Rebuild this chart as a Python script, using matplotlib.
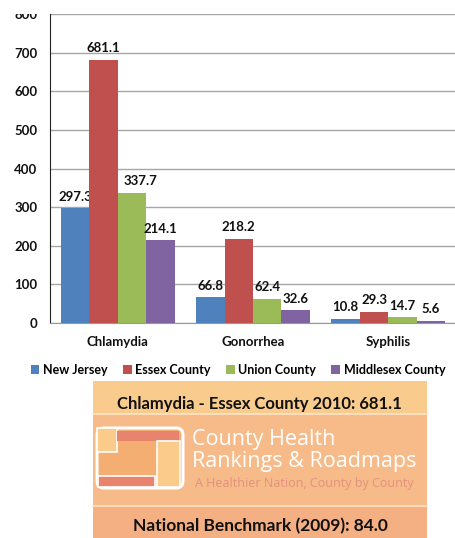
import matplotlib
matplotlib.use('Agg')
import matplotlib.pyplot as plt
from matplotlib.patches import Rectangle, FancyBboxPatch
import numpy as np

plt.rcParams['font.family'] = ['Lato', 'DejaVu Sans']

# data
diseases = ['Chlamydia', 'Gonorrhea', 'Syphilis']
series = ['New Jersey', 'Essex County', 'Union County', 'Middlesex County']
new_jersey = [297.3, 66.8, 10.8]
essex = [681.1, 218.2, 29.3]
union = [337.7, 62.4, 14.7]
middlesex = [214.1, 32.6, 5.6]
yticks = [0, 100, 200, 300, 400, 500, 600, 700, 800]
colors = ['#4F81BD', '#C0504D', '#9BBB59', '#8064A2']

headline = 'Chlamydia - Essex County 2010: 681.1'
benchmark = 'National Benchmark (2009): 84.0'

W, H = 455, 538
fig = plt.figure(figsize=(W / 100, H / 100), dpi=100)

# --- info box drawn in pixel coordinates ---
bg = fig.add_axes([0, 0, 1, 1])
bg.set_xlim(0, W)
bg.set_ylim(H, 0)
bg.axis('off')

bg.add_patch(Rectangle((93, 381), 334, 34, color='#F9CB8C', lw=0))
bg.add_patch(Rectangle((93, 415), 334, 91, color='#F6BB89', lw=0))
bg.add_patch(Rectangle((93, 506), 334, 32, color='#F4AF82', lw=0))
bg.plot([93, 427], [414, 414], color='#FCE3C8', lw=1.2)
bg.plot([93, 427], [506, 506], color='#FCE3C8', lw=1.2)

# logo
bg.add_patch(FancyBboxPatch((97, 428), 86, 60, boxstyle='round,pad=0,rounding_size=7',
                            fc='#F5AE72', ec='white', lw=2.2))
bg.add_patch(Rectangle((97, 428), 20, 24, fc='#FBCB8C', ec='white', lw=1.2))
bg.add_patch(Rectangle((117, 431), 62, 10, fc='#E8846E', ec='none'))
bg.add_patch(Rectangle((157, 441), 23, 46, fc='#FBCB8C', ec='white', lw=1.2))
bg.add_patch(Rectangle((98, 476), 57, 11, fc='#E8846E', ec='white', lw=1.2))

bg.text(259, 404, headline, ha='center', va='center', fontsize=12,
        fontweight='bold', color='#111111')
bg.text(192, 439, 'County Health', ha='left', va='center', fontsize=15.5,
        color='white', family='Open Sans')
bg.text(192, 462, 'Rankings & Roadmaps', ha='left', va='center', fontsize=15.5,
        color='white', family='Open Sans')
bg.text(195, 484, 'A Healthier Nation, County by County', ha='left', va='center',
        fontsize=9, color='#E2917D', family='Open Sans')
bg.text(260, 526, benchmark, ha='center', va='center', fontsize=12.5,
        fontweight='bold', color='#111111')

# --- bar chart ---
ax = fig.add_axes([50 / W, (H - 323) / H, 406 / W, 309 / H])
x = np.arange(len(diseases))
w = 0.21
values = [new_jersey, essex, union, middlesex]
for i, (vals, c, name) in enumerate(zip(values, colors, series)):
    bars = ax.bar(x + (i - 1.5) * w, vals, w, color=c, label=name, zorder=3)
    for j, (b, v) in enumerate(zip(bars, vals)):
        # Excel nudged the Chlamydia / Union label to the right
        dx = 6 if (i, j) == (2, 0) else 0
        ax.annotate(f'{v:.1f}', (b.get_x() + b.get_width() / 2, v),
                    xytext=(dx, 4), textcoords='offset points', ha='center',
                    va='bottom', fontsize=9.5, fontweight='bold', color='#111111')

ax.set_xlim(-0.5, 2.5)
ax.set_ylim(0, 800)
ax.set_yticks(yticks)
ax.set_xticks(x)
ax.set_xticklabels(diseases)
ax.grid(axis='y', color='#A6A6A6', lw=1, zorder=0)
ax.tick_params(axis='both', length=0, labelsize=9.5)
ax.tick_params(axis='y', pad=9)
ax.tick_params(axis='x', pad=9)
for lab in ax.get_xticklabels() + ax.get_yticklabels():
    lab.set_fontweight('bold')
    lab.set_color('#111111')
ax.spines['top'].set_visible(False)
ax.spines['right'].set_visible(False)
ax.spines['left'].set_color('#222222')
ax.spines['bottom'].set_color('#999999')
ax.patch.set_alpha(0)

fig.legend(loc='center', bbox_to_anchor=(238 / W, 1 - 370 / H), ncol=4,
           frameon=False, handlelength=0.7, handleheight=0.7, handletextpad=0.3,
           columnspacing=1.2, prop={'weight': 'bold', 'size': 9})

# the top of the "800" label is cropped off in the original
fig.add_artist(Rectangle((0, 1 - 13.5 / H), 48 / W, 13.5 / H, transform=fig.transFigure,
                         fc='white', ec='none', zorder=10))

fig.savefig('out.png', dpi=100)
